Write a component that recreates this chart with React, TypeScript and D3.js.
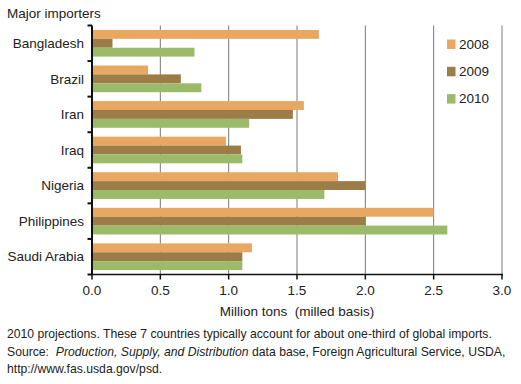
import React from "react";
import * as d3 from "d3";

const countries = ["Bangladesh", "Brazil", "Iran", "Iraq", "Nigeria", "Philippines", "Saudi Arabia"];
const years = ["2008", "2009", "2010"];
const values2008 = [1.66, 0.41, 1.55, 0.98, 1.8, 2.5, 1.17];
const values2009 = [0.15, 0.65, 1.47, 1.09, 2.0, 2.0, 1.1];
const values2010 = [0.75, 0.8, 1.15, 1.1, 1.7, 2.6, 1.1];
const xTicks = [0, 0.5, 1.0, 1.5, 2.0, 2.5, 3.0];
const colors = ["#E9A862", "#9C7C47", "#9CBB6A"];

const W = 521;
const H = 384;
const FONT = "'Liberation Sans', Arial, Helvetica, sans-serif";

export default function App() {
  const x0 = 92, x1 = 502, yTop = 25.5, yBot = 274.5;
  const x = d3.scaleLinear().domain([0, 3]).range([x0, x1]);
  const y = d3.scaleBand<string>().domain(countries).range([yTop, yBot]).paddingInner(0.25).paddingOuter(0.125);
  const yy = d3.scaleBand<string>().domain(years).range([0, y.bandwidth()]).padding(0);
  const series = [values2008, values2009, values2010];
  const step = y.step();
  const boundaries = d3.range(countries.length + 1).map((i) => yTop + i * step);

  return (
    <svg width={W} height={H} style={{ position: "absolute", left: 0, top: 0, background: "#fff" }} fontFamily={FONT}>
      <rect width={W} height={H} fill="#fff" />
      <text x={7} y={17.5} fontSize={13.5} fill="#222">Major importers</text>

      {xTicks.filter((t) => t > 0).map((t) => (
        <line key={"g" + t} x1={x(t)} x2={x(t)} y1={yTop} y2={yBot} stroke="#7a7a7a" strokeWidth={1} />
      ))}

      {countries.map((c, i) => (
        <g key={c}>
          {series.map((s, j) => (
            <rect key={j} x={x(0)} y={(y(c) as number) + (yy(years[j]) as number)} width={x(s[i]) - x(0)} height={yy.bandwidth()} fill={colors[j]} />
          ))}
          <text x={84} y={(y(c) as number) + y.bandwidth() / 2} dy="0.35em" textAnchor="end" fontSize={13.5} fill="#222">{c}</text>
        </g>
      ))}

      {/* y axis */}
      <line x1={x0} x2={x0} y1={yTop} y2={yBot} stroke="#111" strokeWidth={2} />
      {boundaries.map((b, i) => (
        <line key={"yt" + i} x1={87.5} x2={x0} y1={b} y2={b} stroke="#111" strokeWidth={2} />
      ))}

      {/* x axis */}
      <line x1={x0 - 1} x2={x1 + 1} y1={yBot} y2={yBot} stroke="#111" strokeWidth={1.5} />
      {xTicks.map((t) => (
        <g key={"xt" + t}>
          <line x1={x(t)} x2={x(t)} y1={yBot} y2={yBot + 5} stroke="#111" strokeWidth={1.5} />
          <text x={x(t)} y={295} textAnchor="middle" fontSize={13.5} fill="#222">{d3.format(".1f")(t)}</text>
        </g>
      ))}
      <text x={(x0 + x1) / 2 + 0} y={316} textAnchor="middle" fontSize={13.5} fill="#222" xmlSpace="preserve">Million tons  (milled basis)</text>

      {/* legend */}
      {years.map((yr, j) => (
        <g key={yr} transform={`translate(447, ${39.5 + j * 27.3})`}>
          <rect x={0} y={0} width={8.5} height={9.5} fill={colors[j]} />
          <text x={12} y={9.3} fontSize={13.5} fill="#222">{yr}</text>
        </g>
      ))}

      {/* notes */}
      <text x={7} y={338} fontSize={12.2} fill="#222">2010 projections. These 7 countries typically account for about one-third of global imports.</text>
      <text x={7} y={355.5} fontSize={12.2} fill="#222" xmlSpace="preserve">Source:  <tspan fontStyle="italic">Production, Supply, and Distribution</tspan> data base, Foreign Agricultural Service, USDA,</text>
      <text x={7} y={372.5} fontSize={12.2} fill="#222">http://www.fas.usda.gov/psd.</text>
    </svg>
  );
}
